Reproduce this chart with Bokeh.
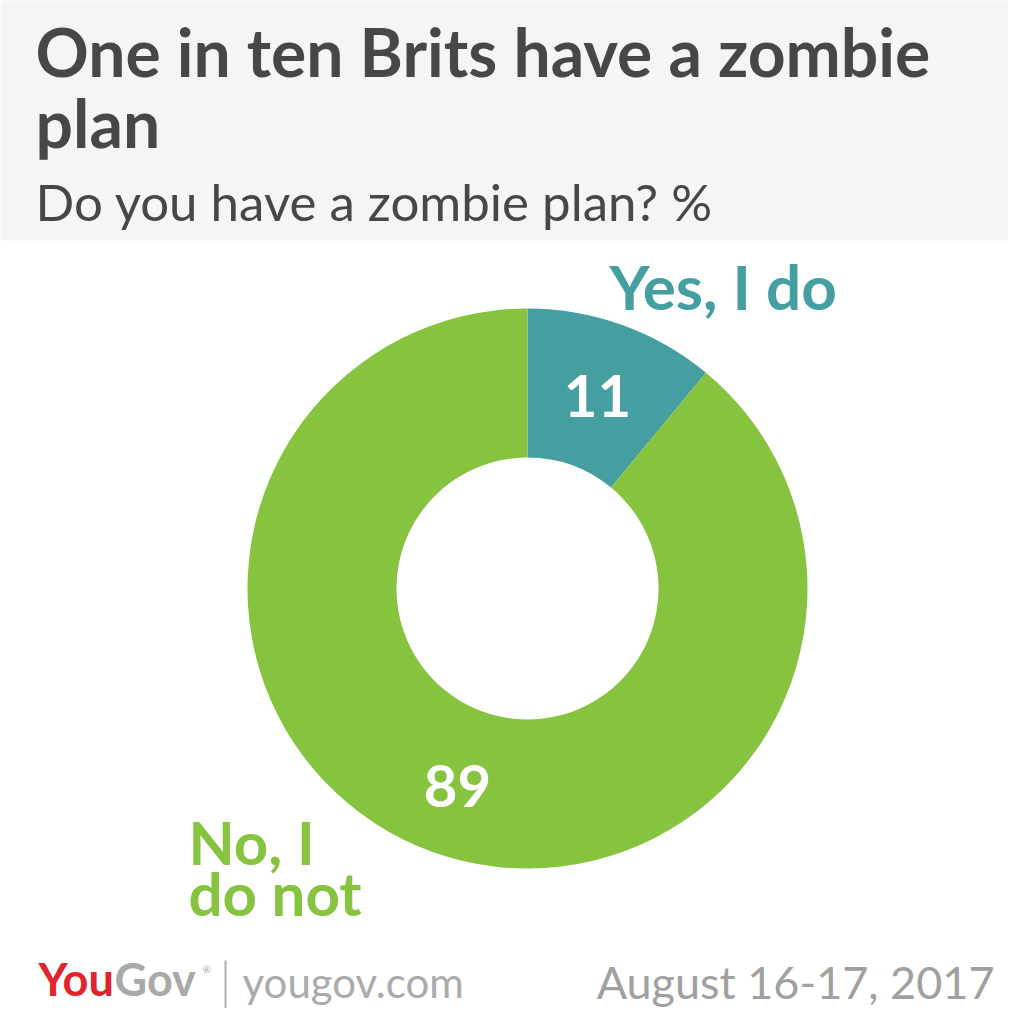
import math
from bokeh.plotting import figure
from bokeh.models import Range1d, ColumnDataSource
from bokeh.core.properties import value
from bokeh.embed import file_html
from bokeh.resources import INLINE

# ---- data ----
categories = ["Yes, I do", "No, I do not"]
values = [11, 89]
label_lines = [["Yes, I do"], ["No, I", "do not"]]
colors = ["#459fa0", "#86c33f"]

title = ["One in ten Brits have a zombie", "plan"]
subtitle = "Do you have a zombie plan? %"
date_text = "August 16-17, 2017"

W = H = 1008
p = figure(width=W, height=H, output_backend="svg", toolbar_location=None,
           x_range=Range1d(0, W), y_range=Range1d(H, 0),
           min_border=0)
p.axis.visible = False
p.grid.visible = False
p.outline_line_color = None
p.background_fill_color = "white"
p.border_fill_color = "white"

FONT = value("Lato")
SHIFT = 0.4  # renderer places alphabetic baseline ~0.4em low; compensate


def base(y, size):
    return y - SHIFT * size


# header band
p.quad(left=[-10], right=[1030], top=[-10], bottom=[240], color="#f4f5f7", line_color=None)

p.text(x=[35, 35], y=[base(77, 66), base(148, 66)], text=title, text_font=FONT, text_font_style="bold",
       text_font_size="66px", text_color="#474747", text_baseline="alphabetic")
p.text(x=[35], y=[base(221, 51)], text=[subtitle], text_font=FONT, text_font_style="normal",
       text_font_size="51px", text_color="#474747", text_baseline="alphabetic")

# donut: start at 12 o'clock, go clockwise (angles are screen-oriented)
cx, cy, r_out, r_in = 527, 588, 280, 131
total = sum(values)
starts, ends = [], []
acc = 0.0
for v in values:
    a0 = math.pi / 2 - 2 * math.pi * acc / total
    acc += v
    a1 = math.pi / 2 - 2 * math.pi * acc / total
    starts.append(a0)
    ends.append(a1)
src = ColumnDataSource(dict(cat=categories, val=values, start=starts, end=ends, color=colors))
p.annular_wedge(x=cx, y=cy, inner_radius=r_in, outer_radius=r_out,
                start_angle="start", end_angle="end", direction="clock",
                color="color", line_color=None, source=src)

# value labels
val_txt = [str(v) for v in values]
p.text(x=[597, 457], y=[base(419, 58), base(809, 58)], text=val_txt, text_font=FONT, text_font_style="bold",
       text_font_size="58px", text_color="white", text_align="center", text_baseline="alphabetic")

# category labels
p.text(x=[609], y=[base(310, 62)], text=label_lines[0], text_font=FONT, text_font_style="bold",
       text_font_size="62px", text_color=colors[0], text_baseline="alphabetic")
p.text(x=[188, 188], y=[base(865, 60), base(916, 60)], text=label_lines[1], text_font=FONT,
       text_font_style="bold", text_font_size="60px", text_color=colors[1], text_baseline="alphabetic")

# footer
p.text(x=[38], y=[base(996, 45)], text=["You"], text_font=FONT, text_font_style="bold",
       text_font_size="45px", text_color="#e3232b", text_baseline="alphabetic")
p.text(x=[114], y=[base(996, 45)], text=["Gov"], text_font=FONT, text_font_style="bold",
       text_font_size="45px", text_color="#a9a9a9", text_baseline="alphabetic")
p.text(x=[202], y=[base(972, 10)], text=["®"], text_font=FONT, text_font_size="10px",
       text_color="#a9a9a9", text_baseline="alphabetic")
p.segment(x0=[225], y0=[960], x1=[225], y1=[1008], line_color="#b0b0b0", line_width=2)
p.text(x=[242], y=[base(998, 42)], text=["yougov.com"], text_font=FONT, text_font_style="normal",
       text_font_size="42px", text_color="#aaaaaa", text_baseline="alphabetic")
p.text(x=[994], y=[base(999, 45)], text=[date_text], text_font=FONT, text_font_style="normal",
       text_font_size="45px", text_color="#a0a0a0", text_align="right", text_baseline="alphabetic")

open("out.html", "w").write(file_html(p, INLINE))
